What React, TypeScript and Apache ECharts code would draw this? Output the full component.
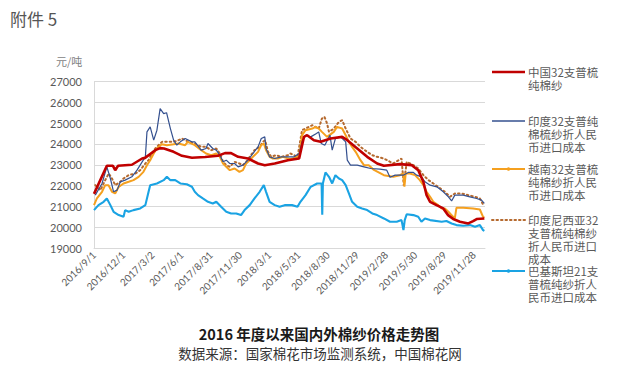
import React, { useEffect, useRef } from "react";
import * as echarts from "echarts";

// ---- data (date, 元/吨) ----
const china32: [string, number][] = [
  ["2016-09-01", 21600], ["2016-10-11", 22950], ["2016-10-30", 22950], ["2016-11-06", 22740],
  ["2016-11-15", 22950], ["2016-12-28", 23000], ["2017-01-29", 23300], ["2017-02-07", 23330],
  ["2017-03-11", 23700], ["2017-03-26", 23800], ["2017-04-07", 23780], ["2017-05-07", 23620],
  ["2017-06-02", 23430], ["2017-07-03", 23340], ["2017-08-13", 23370], ["2017-09-22", 23430],
  ["2017-10-14", 23560], ["2017-11-02", 23560], ["2017-11-24", 23380], ["2017-12-25", 23300],
  ["2018-01-25", 23060], ["2018-02-15", 22980], ["2018-03-18", 23060], ["2018-04-28", 23220],
  ["2018-06-02", 23300], ["2018-06-17", 24340], ["2018-06-27", 24420], ["2018-07-18", 24180],
  ["2018-08-08", 24100], ["2018-09-08", 24260], ["2018-10-14", 24340], ["2018-10-30", 24180],
  ["2018-11-30", 23780], ["2018-12-31", 23380], ["2019-01-31", 23060], ["2019-02-21", 22950],
  ["2019-04-12", 23030], ["2019-05-19", 22980], ["2019-06-08", 22740], ["2019-06-24", 22180],
  ["2019-07-04", 21540], ["2019-07-15", 21220], ["2019-08-04", 21060], ["2019-08-25", 20900],
  ["2019-09-09", 20580], ["2019-09-25", 20390], ["2019-10-16", 20260], ["2019-11-11", 20180],
  ["2019-11-26", 20290], ["2019-12-07", 20390], ["2019-12-31", 20420],
];

const india32: [string, number][] = [
  ["2016-09-05", 21540], ["2016-09-26", 22100], ["2016-10-11", 22900], ["2016-10-22", 22340],
  ["2016-11-01", 21700], ["2016-11-12", 21780], ["2016-11-22", 22180], ["2016-12-07", 22260],
  ["2016-12-28", 22420], ["2017-01-13", 22740], ["2017-01-29", 23140], ["2017-02-08", 23380],
  ["2017-02-13", 24580], ["2017-02-23", 24820], ["2017-03-06", 24180], ["2017-03-16", 24660],
  ["2017-03-26", 25700], ["2017-04-06", 25460], ["2017-04-15", 25500], ["2017-04-27", 24740],
  ["2017-05-07", 24180], ["2017-05-17", 23940], ["2017-05-28", 24100], ["2017-06-12", 24260],
  ["2017-07-03", 24100], ["2017-07-12", 24100], ["2017-08-01", 23700], ["2017-08-16", 23780],
  ["2017-08-22", 24020], ["2017-09-06", 23780], ["2017-09-17", 23700], ["2017-09-28", 23460],
  ["2017-10-08", 23140], ["2017-10-18", 23220], ["2017-10-29", 23060], ["2017-11-13", 23060],
  ["2017-11-24", 22900], ["2017-12-09", 22980], ["2017-12-25", 23220], ["2018-01-09", 23540],
  ["2018-01-25", 23860], ["2018-02-04", 24260], ["2018-02-15", 24340], ["2018-02-19", 23780],
  ["2018-03-02", 23380], ["2018-03-18", 23300], ["2018-04-07", 23380], ["2018-05-17", 23380],
  ["2018-06-02", 23540], ["2018-06-11", 24100], ["2018-06-22", 24420], ["2018-07-08", 24340],
  ["2018-07-26", 24500], ["2018-08-02", 24580], ["2018-08-10", 24020], ["2018-08-21", 23940],
  ["2018-09-06", 24420], ["2018-09-13", 23700], ["2018-09-23", 24260], ["2018-10-09", 24340],
  ["2018-10-25", 24100], ["2018-10-30", 23220], ["2018-11-09", 22980], ["2018-11-30", 22980],
  ["2018-12-21", 22900], ["2019-01-11", 22820], ["2019-02-09", 22790], ["2019-03-02", 22740],
  ["2019-03-12", 22400], ["2019-03-28", 22500], ["2019-04-22", 22500], ["2019-05-08", 22630],
  ["2019-05-24", 22630], ["2019-06-03", 22500], ["2019-06-18", 22420], ["2019-06-29", 22180],
  ["2019-07-15", 22020], ["2019-08-05", 21940], ["2019-08-25", 21700], ["2019-09-10", 21460],
  ["2019-09-20", 21260], ["2019-09-30", 21540], ["2019-10-26", 21540], ["2019-11-16", 21460],
  ["2019-12-07", 21380], ["2019-12-22", 21300], ["2019-12-31", 21140],
];

const vietnam32: [string, number][] = [
  ["2016-09-01", 21060], ["2016-09-10", 21380], ["2016-09-26", 21700], ["2016-10-06", 22020],
  ["2016-10-16", 22020], ["2016-10-27", 21700], ["2016-11-06", 21620], ["2016-11-17", 21940],
  ["2016-12-02", 22100], ["2016-12-18", 22180], ["2017-01-02", 22260], ["2017-01-18", 22420],
  ["2017-02-02", 22660], ["2017-02-13", 22980], ["2017-02-23", 23220], ["2017-03-06", 23540],
  ["2017-03-16", 23780], ["2017-03-31", 23980], ["2017-04-16", 23940], ["2017-05-07", 23980],
  ["2017-05-22", 24020], ["2017-06-12", 23940], ["2017-06-20", 24100], ["2017-07-12", 23940],
  ["2017-08-01", 23700], ["2017-08-16", 23540], ["2017-09-01", 23460], ["2017-09-17", 23540],
  ["2017-09-28", 23380], ["2017-10-08", 23060], ["2017-10-18", 22900], ["2017-10-29", 22740],
  ["2017-11-13", 22820], ["2017-11-28", 22660], ["2017-12-09", 22740], ["2017-12-19", 23060],
  ["2017-12-30", 23220], ["2018-01-09", 23380], ["2018-01-25", 23620], ["2018-02-04", 23940],
  ["2018-02-12", 24020], ["2018-02-19", 23700], ["2018-03-02", 23380], ["2018-03-12", 23300],
  ["2018-03-28", 23300], ["2018-04-12", 23380], ["2018-05-06", 23270], ["2018-06-02", 23380],
  ["2018-06-11", 24420], ["2018-06-22", 24660], ["2018-07-13", 24740], ["2018-07-23", 24820],
  ["2018-08-02", 24740], ["2018-08-12", 24580], ["2018-08-28", 24340], ["2018-09-18", 24580],
  ["2018-09-28", 24820], ["2018-10-14", 24740], ["2018-10-25", 24420], ["2018-11-04", 24100],
  ["2018-11-14", 23860], ["2018-11-25", 23620], ["2018-12-10", 23220], ["2018-12-21", 22980],
  ["2019-01-05", 22980], ["2019-01-21", 22750], ["2019-02-21", 22500], ["2019-03-22", 22420],
  ["2019-04-12", 22500], ["2019-04-22", 22580], ["2019-04-26", 21950], ["2019-04-30", 22580],
  ["2019-05-13", 22580], ["2019-05-29", 22500], ["2019-06-13", 22260], ["2019-06-24", 22020],
  ["2019-07-04", 21700], ["2019-07-15", 21460], ["2019-07-25", 21220], ["2019-08-09", 21060],
  ["2019-08-20", 20900], ["2019-08-30", 20900], ["2019-09-10", 20740], ["2019-09-20", 20580],
  ["2019-09-30", 20420], ["2019-10-05", 20930], ["2019-10-26", 20930], ["2019-11-26", 20900],
  ["2019-12-17", 20850], ["2019-12-27", 20500], ["2019-12-31", 20450],
];

const indonesia32: [string, number][] = [
  ["2016-09-05", 22020], ["2016-09-21", 21780], ["2016-10-06", 22260], ["2016-10-17", 22580],
  ["2016-10-27", 22340], ["2016-11-06", 22020], ["2016-11-22", 22180], ["2016-12-02", 22340],
  ["2016-12-18", 22500], ["2017-01-08", 22580], ["2017-01-23", 22740], ["2017-02-08", 23060],
  ["2017-02-18", 23220], ["2017-02-28", 23540], ["2017-03-11", 23780], ["2017-03-21", 23940],
  ["2017-04-01", 24100], ["2017-05-02", 24100], ["2017-05-17", 24140], ["2017-06-02", 24260],
  ["2017-06-23", 24100], ["2017-07-12", 24020], ["2017-08-01", 23860], ["2017-08-16", 23860],
  ["2017-09-01", 23700], ["2017-09-17", 23780], ["2017-09-28", 23540], ["2017-10-08", 23140],
  ["2017-10-18", 22980], ["2017-10-29", 22900], ["2017-11-13", 23140], ["2017-11-28", 23060],
  ["2017-12-09", 22980], ["2017-12-19", 23140], ["2017-12-30", 23380], ["2018-01-14", 23700],
  ["2018-01-30", 23860], ["2018-02-09", 24100], ["2018-02-16", 24180], ["2018-02-25", 23620],
  ["2018-03-07", 23380], ["2018-03-22", 23460], ["2018-04-07", 23380], ["2018-04-28", 23460],
  ["2018-05-06", 23540], ["2018-05-28", 23380], ["2018-06-11", 24660], ["2018-06-22", 24740],
  ["2018-07-13", 24900], ["2018-07-23", 24820], ["2018-08-02", 24740], ["2018-08-12", 25220],
  ["2018-08-20", 25300], ["2018-08-28", 24980], ["2018-09-03", 24580], ["2018-09-18", 24740],
  ["2018-10-04", 25060], ["2018-10-14", 25140], ["2018-10-25", 24740], ["2018-11-09", 24260],
  ["2018-11-25", 24100], ["2018-12-10", 23860], ["2018-12-31", 23620], ["2019-01-16", 23460],
  ["2019-01-31", 23380], ["2019-02-21", 23300], ["2019-03-22", 23060], ["2019-04-17", 23300],
  ["2019-04-24", 22000], ["2019-05-03", 23140], ["2019-05-24", 22980], ["2019-06-08", 22820],
  ["2019-06-24", 22500], ["2019-07-10", 22260], ["2019-07-25", 22100], ["2019-08-09", 21940],
  ["2019-08-30", 21700], ["2019-09-15", 21460], ["2019-09-30", 21620], ["2019-10-21", 21620],
  ["2019-11-11", 21540], ["2019-12-02", 21460], ["2019-12-17", 21380], ["2019-12-28", 21060],
];

const pakistan21: [string, number][] = [
  ["2016-09-01", 20820], ["2016-09-15", 21060], ["2016-10-01", 21220], ["2016-10-11", 21380],
  ["2016-10-22", 21060], ["2016-11-01", 20740], ["2016-11-17", 20580], ["2016-12-02", 20500],
  ["2016-12-07", 20820], ["2016-12-18", 20740], ["2017-01-02", 20820], ["2017-01-23", 20900],
  ["2017-02-08", 21060], ["2017-02-18", 21700], ["2017-02-23", 22020], ["2017-03-16", 22100],
  ["2017-04-06", 22260], ["2017-04-16", 22420], ["2017-04-27", 22260], ["2017-05-12", 22260],
  ["2017-05-28", 22100], ["2017-06-17", 22060], ["2017-07-03", 21940], ["2017-07-12", 21700],
  ["2017-07-22", 21540], ["2017-08-06", 21380], ["2017-08-22", 21220], ["2017-09-06", 21140],
  ["2017-09-17", 21220], ["2017-10-02", 20980], ["2017-10-18", 20740], ["2017-11-02", 20660],
  ["2017-11-18", 20660], ["2017-12-03", 20580], ["2017-12-14", 20820], ["2017-12-30", 21060],
  ["2018-01-14", 21380], ["2018-01-30", 21700], ["2018-02-12", 22020], ["2018-02-19", 21700],
  ["2018-03-02", 21220], ["2018-03-18", 21060], ["2018-04-02", 20980], ["2018-04-18", 21060],
  ["2018-05-11", 21060], ["2018-05-28", 20980], ["2018-06-06", 21220], ["2018-06-22", 21540],
  ["2018-07-08", 21940], ["2018-07-28", 22100], ["2018-08-11", 22100], ["2018-08-13", 20600],
  ["2018-08-15", 22100], ["2018-08-23", 22630], ["2018-09-03", 22420], ["2018-09-13", 22100],
  ["2018-09-23", 22500], ["2018-10-04", 22340], ["2018-10-14", 22260], ["2018-10-25", 22020],
  ["2018-11-04", 21620], ["2018-11-14", 21220], ["2018-11-30", 20980], ["2018-12-15", 20900],
  ["2018-12-31", 20820], ["2019-01-16", 20660], ["2019-01-31", 20580], ["2019-02-21", 20420],
  ["2019-03-12", 20260], ["2019-04-02", 20260], ["2019-04-17", 20340], ["2019-04-23", 19860],
  ["2019-04-27", 20340], ["2019-05-03", 20620], ["2019-05-24", 20580], ["2019-06-08", 20500],
  ["2019-06-18", 20260], ["2019-06-29", 20420], ["2019-07-15", 20340], ["2019-08-20", 20260],
  ["2019-09-04", 20300], ["2019-09-20", 20180], ["2019-10-05", 20100], ["2019-10-26", 20070],
  ["2019-11-16", 20100], ["2019-12-02", 20020], ["2019-12-17", 20100], ["2019-12-27", 19860],
  ["2019-12-31", 19820],
];

const seriesNames = [
  "中国32支普梳纯棉纱",
  "印度32支普纯棉梳纱折人民币进口成本",
  "越南32支普梳纯棉纱折人民币进口成本",
  "印度尼西亚32支普梳纯棉纱折人民币进口成本",
  "巴基斯坦21支普梳纯纱折人民币进口成本",
];
const legendLines = [
  ["中国32支普梳", "纯棉纱"],
  ["印度32支普纯", "棉梳纱折人民", "币进口成本"],
  ["越南32支普梳", "纯棉纱折人民", "币进口成本"],
  ["印度尼西亚32", "支普梳纯棉纱", "折人民币进口", "成本"],
  ["巴基斯坦21支", "普梳纯纱折人", "民币进口成本"],
];
const startDate = "2016-09-01";
const axisEndDay = 1218;
const tickStepDays = 91;
const yMin = 19000;
const yMax = 27000;
const yStep = 1000;
const titleText = "2016 年度以来国内外棉纱价格走势图";
const sourceText = "数据来源：国家棉花市场监测系统，中国棉花网";
const headerText = "附件 5";
const unitText = "元/吨";

const DAY = 86400000;
const parse = (s: string) => {
  const [y, m, d] = s.split("-").map(Number);
  return Date.UTC(y, m - 1, d);
};
const START = parse(startDate);
const toDay = (s: string) => Math.round((parse(s) - START) / DAY);
const toPts = (arr: [string, number][]) => arr.map(([d, v]) => [toDay(d), v]);
const fmtDay = (v: number) => {
  const dt = new Date(START + v * DAY);
  return `${dt.getUTCFullYear()}/${dt.getUTCMonth() + 1}/${dt.getUTCDate()}`;
};

const COLORS = ["#C00000", "#34508F", "#F5A01F", "#B5692E", "#1AA3E3"];
const CJK = '"Noto Sans CJK SC", "Noto Sans", sans-serif';

export default function App() {
  const ref = useRef<HTMLDivElement>(null);
  useEffect(() => {
    if (!ref.current) return;
    const chart = echarts.init(ref.current, undefined, { renderer: "svg" });
    const dataSets = [china32, india32, vietnam32, indonesia32, pakistan21];
    const lineStyles: any[] = [
      { width: 2.6, color: COLORS[0] },
      { width: 1.2, color: COLORS[1] },
      { width: 2, color: COLORS[2] },
      { width: 2, color: COLORS[3], type: [1.5, 3], cap: "round" },
      { width: 2.1, color: COLORS[4] },
    ];
    const order = [4, 3, 2, 1, 0];
    const series = order.map((i) => ({
      name: seriesNames[i],
      type: "line",
      data: toPts(dataSets[i]),
      showSymbol: false,
      symbol: "none",
      lineStyle: lineStyles[i],
      itemStyle: { color: COLORS[i] },
      z: 2 + (4 - i),
    }));

    // legend graphics
    const legendTops = [72, 121, 169, 220, 271];
    const lh = 12.9;
    const graphics: any[] = [];
    legendTops.forEach((y, i) => {
      graphics.push({
        type: "line",
        shape: { x1: 492, y1: y, x2: 525, y2: y },
        style: {
          stroke: COLORS[i],
          lineWidth: i === 0 ? 2.6 : i === 1 ? 1.5 : 2,
          lineDash: i === 3 ? [1.5, 3] : null,
          lineCap: i === 3 ? "round" : "butt",
        },
      });
      if (i === 2 || i === 4) {
        graphics.push({
          type: "circle",
          shape: { cx: 508.5, cy: y, r: 1.8 },
          style: { fill: COLORS[i] },
        });
      }
      graphics.push({
        type: "text",
        x: 528,
        y: y - lh / 2,
        style: {
          text: legendLines[i].join("\n"),
          font: `11.5px ${CJK}`,
          lineHeight: lh,
          fill: "#595959",
          verticalAlign: "top",
        },
      });
    });
    graphics.push(
      {
        type: "text",
        x: 10,
        y: 10,
        style: { text: headerText, font: `17px ${CJK}`, fill: "#555555" },
      },
      {
        type: "text",
        x: 56,
        y: 55,
        style: { text: unitText, font: `11px ${CJK}`, fill: "#7f7f7f" },
      },
      {
        type: "text",
        x: 319,
        y: 333,
        style: {
          text: titleText,
          font: `bold 14.5px ${CJK}`,
          fill: "#1a1a1a",
          align: "center",
          verticalAlign: "middle",
        },
      },
      {
        type: "text",
        x: 320,
        y: 353,
        style: {
          text: sourceText,
          font: `13.5px ${CJK}`,
          fill: "#333333",
          align: "center",
          verticalAlign: "middle",
        },
      }
    );

    chart.setOption({
      animation: false,
      backgroundColor: "#ffffff",
      grid: { left: 94, top: 81.5, width: 391, height: 166.5 },
      xAxis: {
        type: "value",
        min: 0,
        max: axisEndDay,
        interval: tickStepDays,
        axisLine: { show: true, lineStyle: { color: "#D9D9D9", width: 1 } },
        axisTick: { show: false },
        splitLine: { show: false },
        axisLabel: {
          rotate: 45,
          margin: 5,
          fontSize: 10,
          fontFamily: "Lato, sans-serif",
          color: "#595959",
          showMaxLabel: false,
          formatter: (v: number) => (v > axisEndDay - 20 ? "" : fmtDay(v)),
        },
      },
      yAxis: {
        type: "value",
        min: yMin,
        max: yMax,
        interval: yStep,
        axisLine: { show: true, lineStyle: { color: "#D9D9D9", width: 1 } },
        axisTick: { show: false },
        splitLine: { show: true, lineStyle: { color: "#D9D9D9", width: 1 } },
        axisLabel: {
          margin: 12,
          fontSize: 11,
          fontFamily: "Lato, sans-serif",
          color: "#595959",
          formatter: (v: number) => String(v),
        },
      },
      series,
      graphic: graphics,
    });
    return () => chart.dispose();
  }, []);
  return (
    <div
      ref={ref}
      style={{ position: "fixed", left: 0, top: 0, width: 623, height: 370 }}
    />
  );
}
